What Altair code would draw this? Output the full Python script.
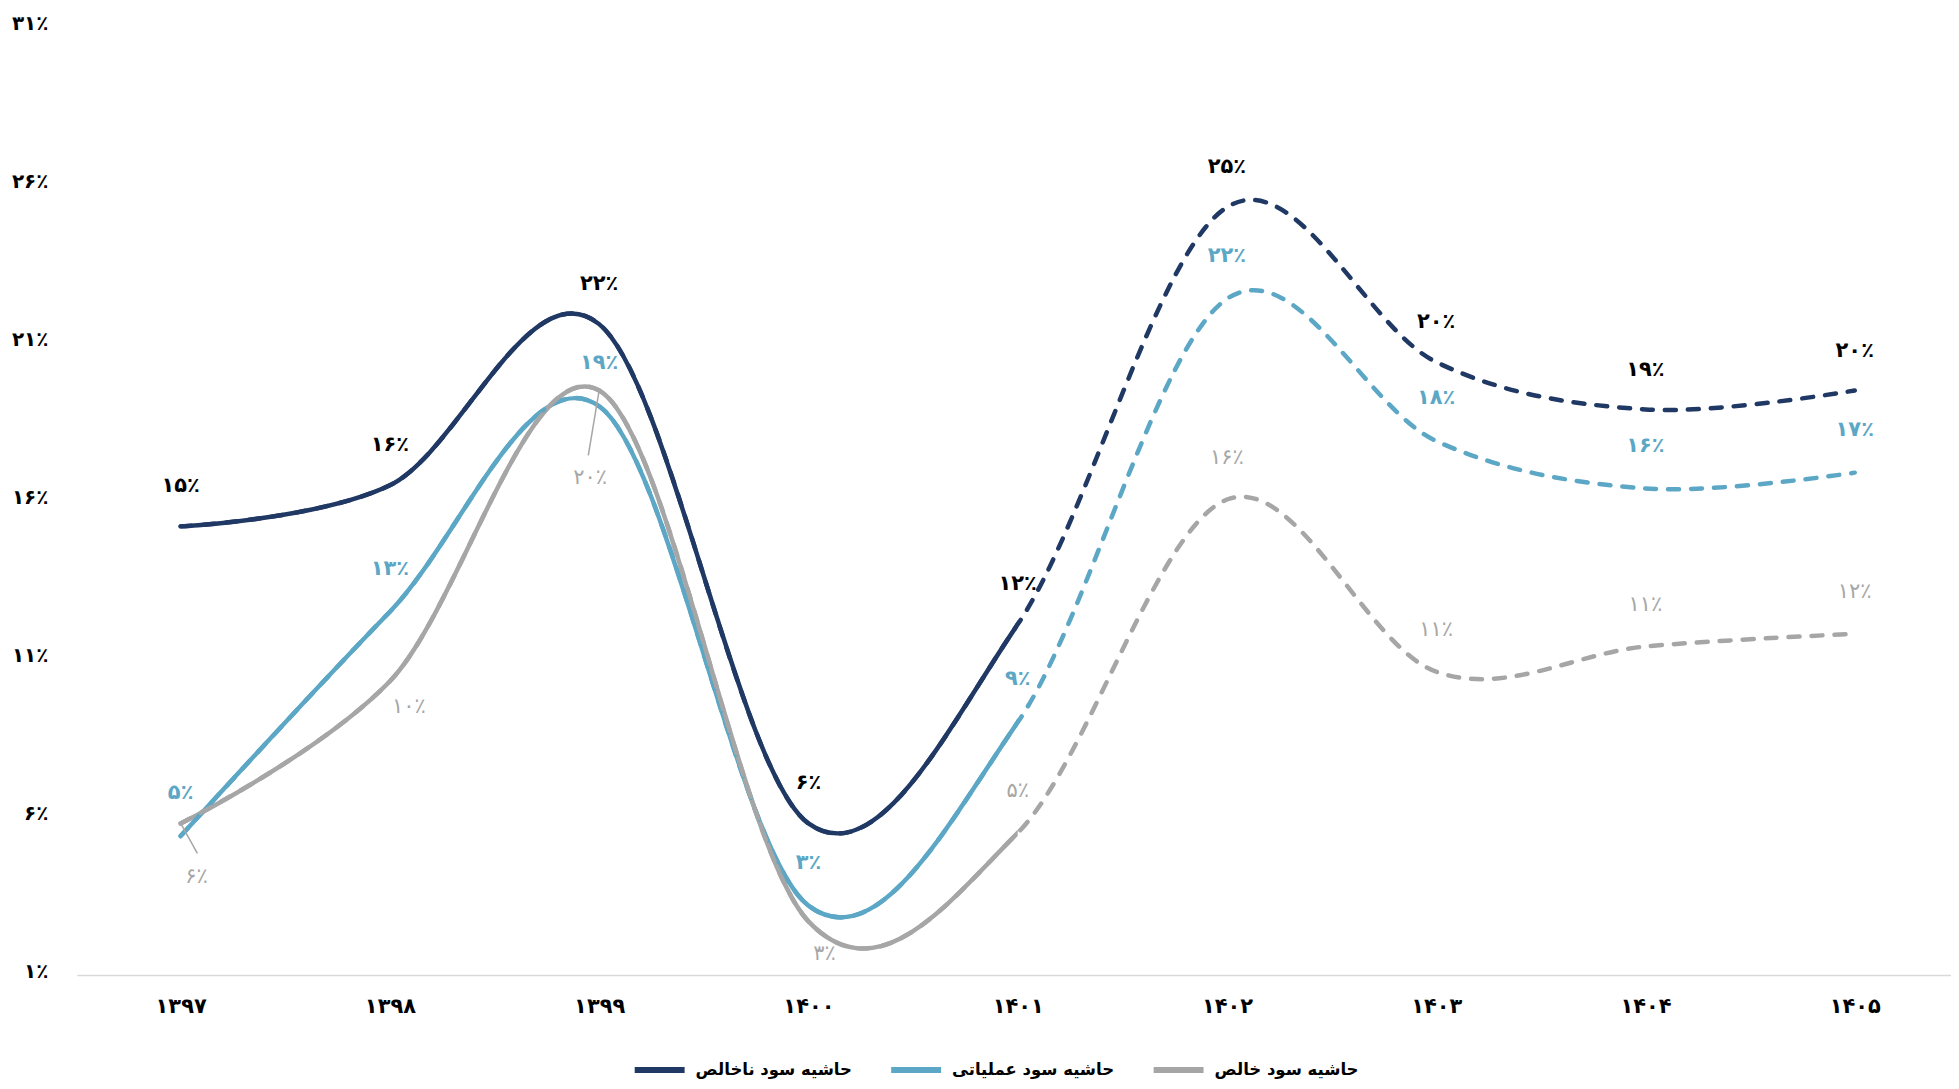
import json
import altair as alt
import pandas as pd

# ---------------- data ----------------
years = [1397, 1398, 1399, 1400, 1401, 1402, 1403, 1404, 1405]
year_labels = ["۱۳۹۷", "۱۳۹۸", "۱۳۹۹", "۱۴۰۰", "۱۴۰۱", "۱۴۰۲", "۱۴۰۳", "۱۴۰۴", "۱۴۰۵"]

series_names = ["حاشیه سود ناخالص", "حاشیه سود عملیاتی", "حاشیه سود خالص"]

gross = [15.2, 16.5, 21.6, 5.8, 12.1, 25.3, 20.4, 18.9, 19.5]
operating = [5.4, 12.5, 19.0, 3.2, 9.0, 22.4, 17.9, 16.4, 16.9]
net = [5.8, 10.3, 19.5, 2.7, 5.5, 16.05, 10.6, 11.4, 11.8]

gross_labels = ["۱۵٪", "۱۶٪", "۲۲٪", "۶٪", "۱۲٪", "۲۵٪", "۲۰٪", "۱۹٪", "۲۰٪"]
operating_labels = ["۵٪", "۱۳٪", "۱۹٪", "۳٪", "۹٪", "۲۲٪", "۱۸٪", "۱۶٪", "۱۷٪"]
net_labels = ["۶٪", "۱۰٪", "۲۰٪", "۳٪", "۵٪", "۱۶٪", "۱۱٪", "۱۱٪", "۱۲٪"]

y_ticks = [1, 6, 11, 16, 21, 26, 31]
y_tick_labels = ["۱٪", "۶٪", "۱۱٪", "۱۶٪", "۲۱٪", "۲۶٪", "۳۱٪"]

forecast_start = 1401

# label placement names (style)
gross_place = ["above_g"] * 9
operating_place = ["above_o"] * 9
net_place = ["lead_low", "low_right", "lead_far", "low", "above_n", "above_n", "above_n", "above_n", "above_n"]

# ---------------- styles ----------------
colors = ["#203864", "#5BA7C5", "#A6A6A6"]
label_colors = ["#000000", "#5BA7C5", "#A6A6A6"]
label_weights = ["bold", "bold", "normal"]
FONT = "DejaVu Sans"

PLACE = {
    "above_g": (0, -40),
    "above_o": (0, -43),
    "above_n": (0, -42),
    "lead_low": (16, 54),
    "low_right": (19, 26),
    "lead_far": (-9, 88),
    "low": (16, 33),
}
# leader line end offsets (in axis units: years, percent)
LEADER = {"lead_low": (0.08, -0.95), "lead_far": (-0.052, -2.05)}

W, H = 1878, 950

rows = []
for name, vals, labs, places in [
    (series_names[0], gross, gross_labels, gross_place),
    (series_names[1], operating, operating_labels, operating_place),
    (series_names[2], net, net_labels, net_place),
]:
    for yr, v, lab, pl in zip(years, vals, labs, places):
        rows.append({"year": yr, "value": v, "series": name, "label": lab, "place": pl})
df = pd.DataFrame(rows)

leader_rows = []
for r in rows:
    if r["place"] in LEADER:
        ddx, ddy = LEADER[r["place"]]
        leader_rows.append({"year": r["year"], "value": r["value"],
                            "year2": r["year"] + ddx, "value2": r["value"] + ddy})
ldf = pd.DataFrame(leader_rows)

xscale = alt.Scale(domain=[1396.504, 1405.46], nice=False, zero=False)
yscale = alt.Scale(domain=[1, 31], nice=False, zero=False)
cscale = alt.Scale(domain=series_names, range=colors)

x_expr = f"{json.dumps(year_labels, ensure_ascii=False)}[indexof({json.dumps(years)}, datum.value)]"
y_expr = f"{json.dumps(y_tick_labels, ensure_ascii=False)}[indexof({json.dumps(y_ticks)}, datum.value)]"

x_axis = alt.Axis(values=years, labelExpr=x_expr, title=None, grid=False, ticks=False, tickSize=0,
                  domain=True, domainColor="#D9D9D9", domainWidth=1.5,
                  labelFont=FONT, labelFontSize=21, labelFontWeight="bold", labelColor="#000000",
                  labelBaseline="middle", labelPadding=31, labelFlush=False, labelOverlap=False,
                  zindex=1)
y_axis = alt.Axis(values=y_ticks, labelExpr=y_expr, title=None, grid=False, ticks=False, tickSize=0,
                  domain=False, labelFont=FONT, labelFontSize=20, labelFontWeight="bold",
                  labelColor="#000000", labelPadding=29, labelOffset=-4, labelBaseline="middle",
                  labelOverlap=False, zindex=1)

X = alt.X("year:Q", scale=xscale, axis=x_axis)
Y = alt.Y("value:Q", scale=yscale, axis=y_axis)

base = alt.Chart(df)

solid = base.mark_line(interpolate="cardinal", strokeWidth=4.5, strokeCap="round", strokeJoin="round").encode(
    x=X, y=Y,
    color=alt.Color("series:N", scale=cscale, sort=series_names,
                    legend=alt.Legend(orient="none", legendX=556, legendY=1017, direction="horizontal",
                                      title=None, symbolType="stroke", symbolStrokeWidth=6,
                                      symbolSize=2500, labelFont=FONT, labelFontSize=16.5,
                                      labelFontWeight="bold", labelColor="#000000", labelLimit=400,
                                      columnPadding=27, labelOffset=8, columns=3)),
    detail="series:N",
)

mask = alt.Chart(pd.DataFrame({"x": [forecast_start]})).mark_rect(color="white").encode(
    x=alt.X("x:Q", scale=xscale, axis=x_axis),
    x2=alt.value(W),
    y=alt.value(0),
    y2=alt.value(H),
)

dashed = base.mark_line(interpolate="cardinal", strokeWidth=4.5, strokeCap="round",
                        strokeDash=[11, 12]).encode(
    x=X, y=Y,
    color=alt.Color("series:N", scale=cscale, sort=series_names, legend=None),
    detail="series:N",
)

leaders = alt.Chart(ldf).mark_rule(color="#A6A6A6", strokeWidth=1.5).encode(
    x=alt.X("year:Q", scale=xscale, axis=x_axis),
    y=alt.Y("value:Q", scale=yscale, axis=y_axis),
    x2="year2:Q",
    y2="value2:Q",
)

layers = [solid, mask, dashed, leaders]
for i, name in enumerate(series_names):
    sub = df[df["series"] == name]
    for pl in sorted(sub["place"].unique()):
        dx, dy = PLACE[pl]
        layers.append(
            alt.Chart(sub[sub["place"] == pl]).mark_text(
                font=FONT, fontSize=21, fontWeight=label_weights[i], color=label_colors[i],
                align="center", baseline="middle", dx=dx, dy=dy,
            ).encode(x=X, y=Y, text="label:N")
        )

chart = alt.layer(*layers).properties(
    width=W, height=H,
    autosize=alt.AutoSizeParams(type="none"),
    padding={"left": 69, "top": 18, "right": 0, "bottom": 107},
).configure(background="white").configure_view(stroke=None, strokeWidth=0)

chart.save("out.html", embed_options={"renderer": "svg", "actions": False})
